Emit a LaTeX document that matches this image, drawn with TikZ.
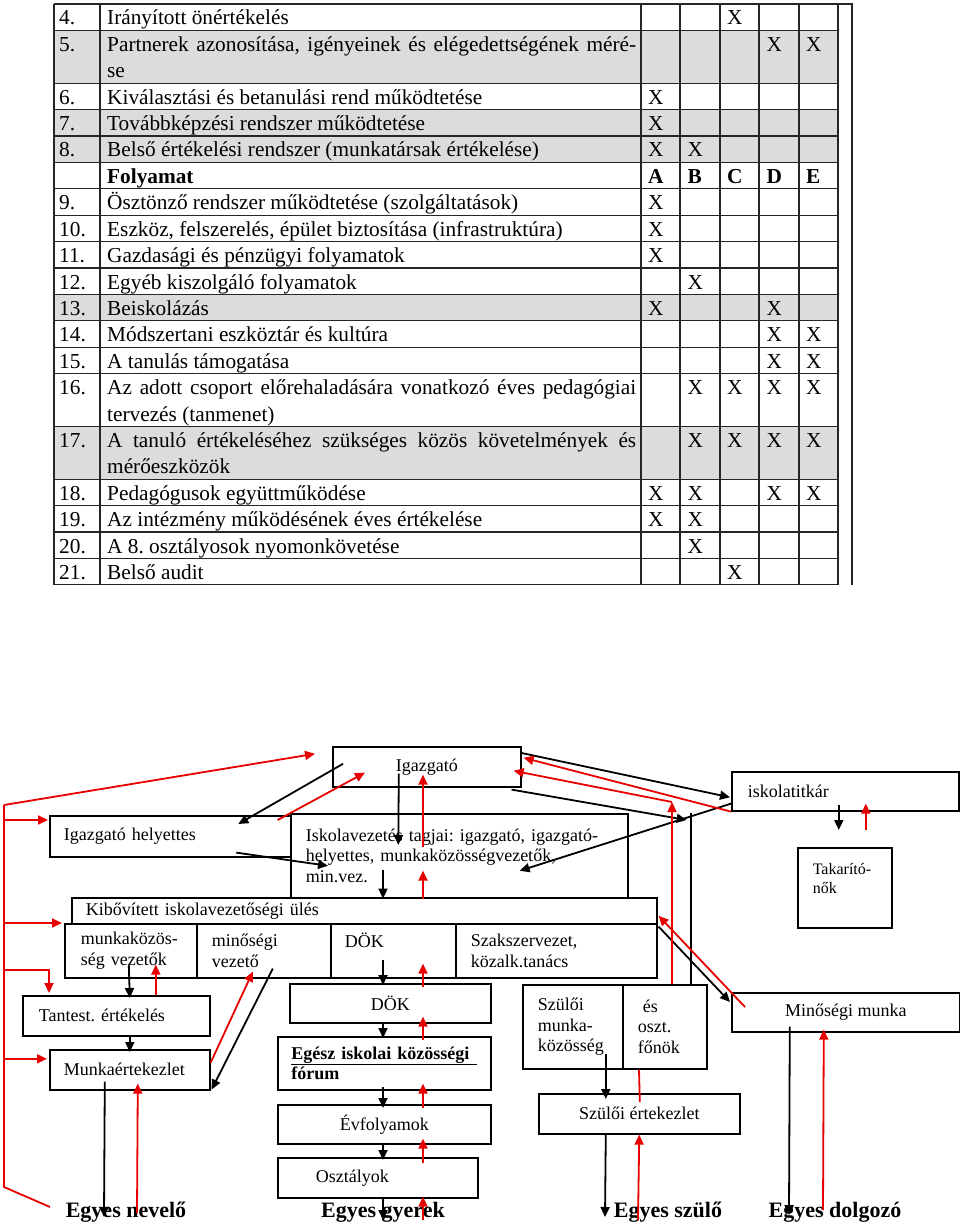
\documentclass[tikz,border=0pt]{standalone}
\usepackage{fontspec}
\setmainfont{Liberation Serif}
\usetikzlibrary{calc,arrows.meta}
\definecolor{pirosszin}{RGB}{230,0,0}
\definecolor{sorszin}{RGB}{220,220,220}
\newcommand\nagybetu{\fontsize{21.3}{26.4}\selectfont}
\newcommand\kisbetu{\fontsize{18}{20.7}\selectfont}
\newcommand\takbetu{\fontsize{16}{19}\selectfont}
\newcommand\cimbetu{\bfseries\fontsize{22}{26}\selectfont}
\def\sormag{26.4}
\frenchspacing
\tikzset{
  >={Triangle[length=10pt,width=9pt]},
  racs/.style={draw=black!85, line width=1.3pt},
  tabszoveg/.style={anchor=base west, inner sep=0pt, font=\nagybetu},
  doboz/.style={draw, line width=1.6pt, rectangle, anchor=north west,
    inner sep=0pt, font=\kisbetu},
  bal/.style={align=left, inner xsep=#1},
  cimke/.style={font=\cimbetu, inner sep=2pt},
  fek/.style={draw=black, line width=1.8pt, ->},
  fekvonal/.style={draw=black, line width=1.8pt},
  piros/.style={draw=pirosszin, line width=1.8pt, ->},
  pirosvonal/.style={draw=pirosszin, line width=1.8pt},
}
\begin{document}
\begin{tikzpicture}[x=1pt,y=-1pt]
\useasboundingbox (0,0) rectangle (960,1228);

% tablazat
\foreach \a/\b in {1/3,4/6,11/12,16/18}
  \fill[sorszin] (54,{4+\a*\sormag}) rectangle (838,{4+\b*\sormag});
\foreach \h in {0,1,3,4,5,6,7,8,9,10,11,12,13,14,16,18,19,20,21,22}
  \draw[racs] (54,{4+\h*\sormag}) -- (838,{4+\h*\sormag});
\foreach \x in {54,100,641,680,720,759,799,838}
  \draw[racs] (\x,4) -- (\x,{4+22*\sormag});
\draw[racs] (838,4) -- (852,4) -- (852,585);

\foreach \sor/\szam/\elso/\masod/\jelek in {
  0/4./Irányított önértékelés//{3},
  1/5./{\makebox[529pt][s]{Partnerek azonosítása, igényeinek és elégedettségének méré-}}/se/{4,5},
  3/6./Kiválasztási és betanulási rend működtetése//{1},
  4/7./Továbbképzési rendszer működtetése//{1},
  5/8./Belső értékelési rendszer (munkatársak értékelése)//{1,2},
  7/9./Ösztönző rendszer működtetése (szolgáltatások)//{1},
  8/10./{Eszköz, felszerelés, épület biztosítása (infrastruktúra)}//{1},
  9/11./Gazdasági és pénzügyi folyamatok//{1},
  10/12./Egyéb kiszolgáló folyamatok//{2},
  11/13./Beiskolázás//{1,4},
  12/14./Módszertani eszköztár és kultúra//{4,5},
  13/15./A tanulás támogatása//{4,5},
  14/16./{\makebox[529pt][s]{Az adott csoport előrehaladására vonatkozó éves pedagógiai}}/tervezés (tanmenet)/{2,3,4,5},
  16/17./{\makebox[529pt][s]{A tanuló értékeléséhez szükséges közös követelmények és}}/mérőeszközök/{2,3,4,5},
  18/18./Pedagógusok együttműködése//{1,2,4,5},
  19/19./Az intézmény működésének éves értékelése//{1,2},
  20/20./A 8. osztályosok nyomonkövetése//{2},
  21/21./Belső audit//{3}}{
  \node[tabszoveg] (szam\sor) at (59,{4+\sor*\sormag+21}) {\szam};
  \node[tabszoveg] (elso\sor) at (107,{4+\sor*\sormag+21}) {\elso};
  \node[tabszoveg] (masod\sor) at (107,{4+(\sor+1)*\sormag+21}) {\masod};
  \foreach \c in \jelek
    \node[tabszoveg] (x\sor-\c) at ({641+(\c-1)*39.5+7},{4+\sor*\sormag+21}) {X};
}
\node[tabszoveg, font=\nagybetu\bfseries] (folyamat) at (107,{4+6*\sormag+21}) {Folyamat};
\foreach \betu [count=\k] in {A,B,C,D,E}
  \node[tabszoveg, font=\nagybetu\bfseries] (betu\k) at ({641+(\k-1)*39.5+7},{4+6*\sormag+21}) {\betu};

% dobozok
\node[doboz, minimum width=188, minimum height=40] (igaz) at (332,746) {Igazgató};
\node[doboz, bal=14, text width=213, minimum height=41] (helyettes) at (49,815) {Igazgató helyettes};
\node[doboz, bal=15, text width=307, minimum height=84] (vezetes) at (290,813)
  {Iskolavezetés tagjai: igazgató, igazgató-\\helyettes, munkaközösségvezetők,\\min.vez.};
\node[doboz, bal=16, text width=195, minimum height=39] (titkar) at (731,771) {iskolatitkár};
\node[doboz, bal=15, text width=64, minimum height=80, font=\takbetu] (takarito) at (797,847)
  {Takarító-\\nők\\\mbox{}};
\node[doboz, bal=14, text width=557, minimum height=26] (kibov) at (71,897)
  {Kibővített iskolavezetőségi ülés};
\node[doboz, bal=16, text width=100, minimum height=54] (munka) at (64,923) {munkaközös-\\ség vezetők};
\node[doboz, bal=15, text width=104, minimum height=54] (minoseg) at (196,923) {minőségi\\vezető};
\node[doboz, bal=14, text width=97, minimum height=54] (dok1) at (330,923) {DÖK\\\mbox{}};
\node[doboz, bal=15, text width=171, minimum height=54] (szaksz) at (455,923) {Szakszervezet,\\közalk.tanács};
\node[doboz, bal=16, text width=155, minimum height=40] (tantest) at (22,995) {Tantest. értékelés};
\node[doboz, bal=14, text width=132, minimum height=40] (munkaert) at (49,1049) {Munkaértekezlet};
\node[doboz, minimum width=201, minimum height=39] (dok2) at (289,983) {DÖK};
\node[doboz, bal=13.5, text width=186, minimum height=53, font=\kisbetu\bfseries] (forum) at (277,1036)
  {\underline{\makebox[186pt][s]{Egész iskolai közösségi}}\\fórum};
\node[doboz, minimum width=213, minimum height=39] (evf) at (277,1104) {Évfolyamok};
\node[doboz, bal=38, text width=124, minimum height=40] (oszt) at (277,1157) {Osztályok};
\node[doboz, bal=15, text width=70, minimum height=84] (szulmk) at (522,984) {Szülői\\munka-\\közösség};
\node[doboz, bal=15, text width=54, minimum height=84] (fonok) at (622,984) {\hspace{5pt}és\\oszt.\\főnök};
\node[doboz, minimum width=201, minimum height=40] (szulert) at (538,1093) {Szülői értekezlet};
\node[doboz, minimum width=228, minimum height=39] (minmunka) at (731,992) {Minőségi munka};

\node[cimke] (nevelo) at (126,1212) {Egyes nevelő};
\node[cimke] (gyerek) at (383,1212) {Egyes gyerek};
\node[cimke] (szulo) at (668,1212) {Egyes szülő};
\node[cimke] (dolgozo) at (835,1212) {Egyes dolgozó};

% segedpontok
\coordinate (savA) at (383,0);
\coordinate (savB) at (423,0);
\coordinate (gerinc) at (4,805);
\coordinate (gerincalj) at (4,1187);
\coordinate (gerincveg) at (50,1207);
\coordinate (fekoszlop) at ($(fonok.north east)+(-17,-171)$);
\coordinate (piroszlop) at ($(fonok.north west)+(50,-182)$);
\coordinate (ag1) at ($(helyettes.north west)+(-1,5)$);
\coordinate (ag2) at ($(tantest.north west)+(27,-2)$);
\coordinate (ag3) at ($(munkaert.west)+(-2,-11)$);

% fekete nyilak
\draw[fek] ($(igaz.west)+(11,-3)$) -- ($(helyettes.north)+(68,9)$);
\draw[fek] ($(igaz.south)+(-28,-14)$) -- ($(vezetes.north)+(-61,32)$);
\draw[fek] ($(helyettes.south)+(66,-5)$) -- ($(vezetes.west)+(38,10)$);
\draw[fek] ($(vezetes.south -| savA)+(0,-29)$) -- (vezetes.south -| savA);
\draw[fek] ($(igaz.north east)+(0,7)$) -- ($(titkar.west)+(-1,6)$);
\draw[fek] ($(igaz.south east)+(-10,2)$) -- ($(fekoszlop)+(-4,7)$);
\draw[fekvonal] (fekoszlop) -- (fekoszlop |- fonok.north);
\draw[fek] ($(titkar.west)+(1,12)$) -- ($(vezetes.east)+(-109,15)$);
\draw[fek] ($(titkar.south)+(-6.5,-7)$) -- ($(takarito.north)+(-6,-17)$);
\draw[fek] ($(kibov.south east)+(1,2)$) -- ($(minmunka.north west)+(-1,10)$);
\draw[fek] ($(munka.south)+(-2,-14)$) -- ($(tantest.north)+(13.5,3)$);
\draw[fek] ($(tantest.south)+(13.5,0)$) -- ($(munkaert.north)+(0,3)$);
\draw[fek] ($(minoseg.south)+(9,-10)$) -- ($(munkaert.south east)+(1,-1)$);
\draw[fek] ($(munkaert.south)+(-25,-9)$) -- ($(nevelo.center)+(-22,5)$);
\draw[fek] ($(dok1.south -| savA)+(0,-19)$) -- ($(dok2.north -| savA)+(0,2)$);
\draw[fek] (dok2.south -| savA) -- ($(forum.north -| savA)+(0,2)$);
\draw[fek] ($(forum.south -| savA)+(0,-4)$) -- ($(evf.north -| savA)+(0,4)$);
\draw[fek] (evf.south -| savA) -- ($(oszt.north -| savA)+(0,3)$);
\draw[fek] (oszt.south -| savA) -- ($(gyerek.center -| savA)+(0,8)$);
\draw[fek] ($(szulmk.south)+(33,-16)$) -- ($(szulert.north)+(-33.5,6)$);
\draw[fek] ($(szulert.south)+(-33.5,0)$) -- ($(szulo.center)+(-63,5)$);
\draw[fek] ($(minmunka.south)+(-56,-6)$) -- ($(dolgozo.center)+(-46,3)$);

% piros nyilak
\draw[pirosvonal] (gerinc) -- (gerincalj) -- (gerincveg);
\draw[piros] (gerinc) -- ($(igaz.west)+(-17,-13)$);
\draw[piros] (gerinc |- ag1) -- (ag1);
\draw[piros] (gerinc |- munka.north west) -- ($(munka.north west)+(-2,0)$);
\draw[piros] ($(gerinc |- munka.south)+(0,-9)$) -| (ag2);
\draw[piros] (gerinc |- ag3) -- (ag3);
\draw[piros] ($(helyettes.north east)+(-14,5)$) -- ($(igaz.south west)+(33,-15)$);
\draw[piros] ($(vezetes.north -| savB)+(0,34)$) -- ($(igaz.south -| savB)+(0,-13)$);
\draw[piros] (vezetes.south -| savB) -- ($(vezetes.south -| savB)+(0,-28)$);
\draw[piros] (titkar.south west) -- ($(igaz.east)+(2,-9)$);
\draw[piros] (piroszlop |- fonok.north) -- (piroszlop);
\draw[piros] (piroszlop) -- ($(igaz.east)+(-8,4)$);
\draw[piros] ($(takarito.north)+(21,-17)$) -- ($(titkar.south)+(20.5,-8)$);
\draw[piros] ($(minmunka.north west)+(14,15)$) -- ($(kibov.east)+(1,5)$);
\draw[piros] (tantest.north -| {$(munka.south)+(25,0)$}) -- ($(munka.south)+(25,-14)$);
\draw[piros] ($(munkaert.east)+(0,-7)$) -- ($(minoseg.south)+(-11,-7)$);
\draw[piros] ($(nevelo.center)+(11,1)$) -- ($(munkaert.south)+(8,-7)$);
\draw[piros] ($(dok2.north -| savB)+(0,4)$) -- ($(dok1.south -| savB)+(0,-15)$);
\draw[piros] ($(forum.north -| savB)+(0,4)$) -- ($(dok2.south -| savB)+(0,-7)$);
\draw[piros] ($(evf.north -| savB)+(0,4)$) -- ($(forum.south -| savB)+(0,-7)$);
\draw[piros] ($(oszt.north -| savB)+(0,6)$) -- ($(evf.south -| savB)+(0,-6)$);
\draw[piros] ($(gyerek.center -| savB)+(0,8)$) -- ($(oszt.south -| savB)+(0,-2)$);
\draw[pirosvonal] ($(fonok.south west)+(17,0)$) -- ($(szulert.north)+(0.5,9)$);
\draw[piros] ($(szulo.center)+(-30,8)$) -- (szulert.south);
\draw[piros] ($(dolgozo.center)+(-12,-2)$) -- ($(minmunka.south)+(-22,-3)$);
\end{tikzpicture}
\end{document}
